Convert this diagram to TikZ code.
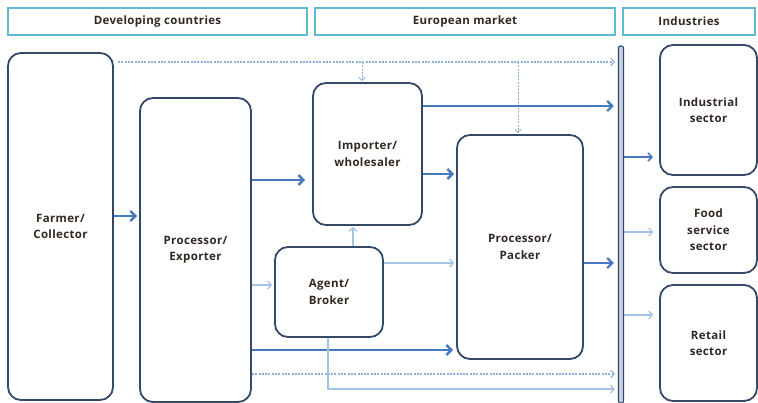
\documentclass[tikz,border=0pt]{standalone}
\usepackage{fontspec}
\setmainfont{Open Sans}[LetterSpace=3]
\usetikzlibrary{arrows.meta}
\definecolor{boxline}{RGB}{52,72,104}
\definecolor{hdrline}{RGB}{96,186,210}
\definecolor{heavy}{RGB}{70,122,192}
\definecolor{lightarr}{RGB}{165,195,230}
\definecolor{dotarr}{RGB}{140,178,224}
\definecolor{barfill}{RGB}{200,212,228}
\definecolor{txt}{RGB}{50,40,35}
\begin{document}
\begin{tikzpicture}[x=1pt,y=-1pt,
  box/.style={draw=boxline,line width=1.8pt,rounded corners=13pt,align=center,text=txt,
    font=\bfseries\fontsize{11.5}{16.5}\selectfont,inner sep=0pt},
  hdr/.style={draw=hdrline,line width=2pt,minimum height=27pt,text=txt,
    font=\bfseries\fontsize{11.5}{12}\selectfont,inner sep=0pt},
  heavyarrow/.style={draw=heavy,line width=2.4pt,-{Straight Barb[length=5pt,width=10pt]}},
  medarrow/.style={draw=heavy,line width=1.6pt,-{Straight Barb[length=4pt,width=8pt]}},
  lightarrow/.style={draw=lightarr,line width=1.3pt,-{Straight Barb[length=3.5pt,width=8pt]}},
  dotarrow/.style={draw=dotarr,line width=1.1pt,dash pattern=on 2pt off 1.3pt,-{Straight Barb[length=3.5pt,width=8pt]}},
]
\useasboundingbox (0,0) rectangle (758,403);

% headers
\node[hdr,minimum width=299pt] (hdev) at (157.5,21.5) {Developing countries};
\node[hdr,minimum width=300pt] (heu) at (465,21.5) {European market};
\node[hdr,minimum width=132pt] (hind) at (689,21.5) {Industries};

% boxes
\node[box,minimum width=105pt,minimum height=347pt] (farmer) at (60.5,226.5) {Farmer/\\Collector};
\node[box,minimum width=111pt,minimum height=304pt] (procexp) at (195.5,250) {Processor/\\Exporter};
\node[box,minimum width=109pt,minimum height=142pt] (importer) at (367.5,154) {Importer/\\wholesaler};
\node[box,minimum width=108pt,minimum height=90pt] (agent) at (329,292) {Agent/\\Broker};
\node[box,minimum width=126pt,minimum height=224pt] (packer) at (520,247) {Processor/\\Packer};
\node[box,minimum width=97pt,minimum height=130pt] (industrial) at (708.5,110) {Industrial\\sector};
\node[box,minimum width=97pt,minimum height=86pt] (food) at (708.5,230) {Food\\service\\sector};
\node[box,minimum width=97pt,minimum height=116pt] (retail) at (708.5,343) {Retail\\sector};

% bar
\node[draw=boxline,line width=1.2pt,fill=barfill,rounded corners=2pt,minimum width=5pt,
  minimum height=357pt,inner sep=0pt] (bar) at (621,224.5) {};

% dotted top line and branches
\coordinate (dstart) at (118,62);
\coordinate (b1) at (362,62);
\coordinate (b2) at (518,62);
\draw[dotarrow,shorten >=3pt] (dstart) -- (bar.west |- dstart);
\draw[dotarrow,line width=0.9pt,-{Straight Barb[length=3pt,width=6pt]},shorten >=1pt] (b1) -- (b1 |- importer.north);
\draw[dotarrow,line width=0.9pt,-{Straight Barb[length=3pt,width=6pt]},shorten >=1pt] (b2) -- (b2 |- packer.north);

% flows
\draw[heavyarrow,shorten >=2pt] (farmer.east |- 0,216) -- (procexp.west |- 0,216);
\draw[heavyarrow,shorten >=7pt] (procexp.east |- 0,180) -- (importer.west |- 0,180);
\draw[lightarrow,shorten >=2pt] (procexp.east |- 0,285) -- (agent.west |- 0,285);
\draw[heavyarrow,shorten >=3pt] (procexp.east |- 0,350) -- (packer.west |- 0,350);
\draw[dotarrow,shorten >=3pt] (procexp.east |- 0,374) -- (bar.west |- 0,374);
\draw[lightarrow,shorten >=3pt] (agent.south -| 328,0) |- (bar.west |- 0,389);
\draw[lightarrow,shorten >=1pt] (agent.north -| 353,0) -- (importer.south -| 353,0);
\draw[lightarrow,shorten >=2pt] (agent.east |- 0,263) -- (packer.west |- 0,263);
\draw[heavyarrow,shorten >=2pt] (importer.east |- 0,174) -- (packer.west |- 0,174);
\draw[heavyarrow,shorten >=4pt] (importer.east |- 0,106) -- (bar.west |- 0,106);
\draw[heavyarrow,shorten >=4pt] (packer.east |- 0,263) -- (bar.west |- 0,263);
\draw[medarrow,shorten >=6pt] (bar.east |- 0,157) -- (industrial.west |- 0,157);
\draw[lightarrow,shorten >=6pt] (bar.east |- 0,232) -- (food.west |- 0,232);
\draw[lightarrow,shorten >=6pt] (bar.east |- 0,315) -- (retail.west |- 0,315);
\end{tikzpicture}
\end{document}
